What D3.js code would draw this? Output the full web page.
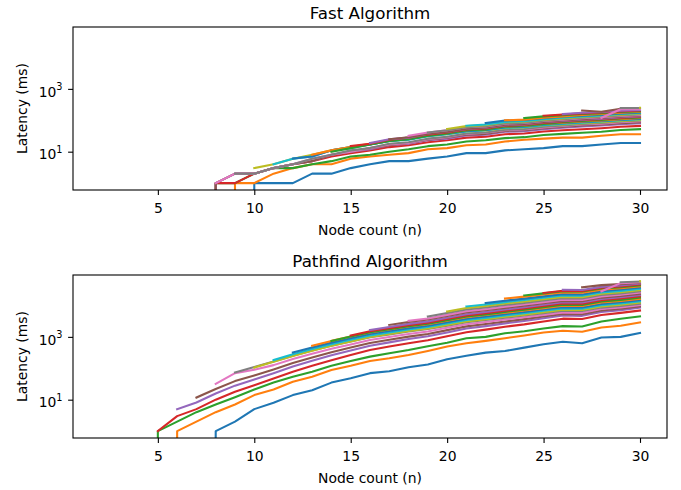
<!DOCTYPE html>
<html><head><meta charset="utf-8">
<script src="https://cdn.jsdelivr.net/npm/d3@7/dist/d3.min.js"></script>
<style>body{margin:0;background:#fff} text{font-family:"DejaVu Sans",sans-serif;fill:#000}</style>
</head><body><svg id="chart" width="681" height="490"></svg>
<script>
// ---- data ----
const xTickValues = [5, 10, 15, 20, 25, 30];
const yTickExponents = [1, 3];
const panelTitles = ["Fast Algorithm", "Pathfind Algorithm"];
const xLabel = "Node count (n)";
const yLabel = "Latency (ms)";
const palette = ["#1f77b4","#ff7f0e","#2ca02c","#d62728","#9467bd","#8c564b","#e377c2","#7f7f7f","#bcbd22","#17becf"];

// first node count of each series (series i starts at n = fastStart[i])
const fastStart = [2,3,4,5,6,7,8,9,10,11,12,13,14,15,16,17,18,19,20,21,22,23,24,25,26,27,28,29,30];
const fastValues = [
 [0,0,0,0,0,0,0,0,1,1,1,2,2,3,4,5,5,6,7,9,9,11,12,13,15,15,17,19,19],
 [0,0,0,0,0,0,1,1,2,3,4,4,6,7,8,9,12,13,16,17,21,24,26,28,28,32,36,36],
 [0,0,0,0,1,1,2,3,3,4,5,7,8,10,12,15,17,21,23,27,29,34,37,40,43,49,52],
 [0,0,0,1,1,2,3,4,5,7,9,11,14,16,20,23,28,30,36,38,44,48,52,56,62,66],
 [0,0,1,2,2,3,4,5,8,10,12,16,18,23,26,33,35,43,45,52,58,64,69,75,81],
 [0,1,2,2,3,4,5,8,10,13,16,19,24,28,35,37,46,48,56,62,68,73,81,87],
 [1,2,2,3,4,6,8,10,13,17,19,25,29,37,40,48,51,59,66,73,78,87,93],
 [2,2,3,4,6,8,11,13,18,20,26,30,38,41,50,53,62,68,76,82,91,98],
 [3,4,6,8,11,14,17,22,25,31,36,44,47,56,59,68,74,81,87,95,102],
 [4,6,7,11,13,17,22,24,31,36,44,48,58,60,70,77,84,91,100,107],
 [6,7,11,14,17,22,25,32,37,46,49,60,63,73,80,88,95,104,112],
 [8,11,14,18,23,26,34,39,48,52,63,66,76,84,92,99,109,117],
 [10,13,17,22,25,32,38,48,51,63,67,77,86,95,103,114,123],
 [15,18,24,28,35,41,51,55,67,71,82,91,100,108,119,129],
 [19,25,28,37,43,53,58,70,74,86,95,105,113,125,135],
 [25,29,37,43,54,59,72,76,89,99,109,118,131,141],
 [32,41,48,60,64,78,82,95,105,116,125,137,148],
 [41,48,60,65,79,84,97,108,120,129,143,155],
 [53,65,70,86,90,104,115,127,136,151,162],
 [67,73,89,94,108,120,132,143,158,170],
 [82,98,102,117,129,141,151,166,178],
 [100,105,121,133,147,158,173,186],
 [118,133,145,158,168,183,195],
 [140,153,166,177,192,204],
 [158,173,184,200,214],
 [203,186,232,229],
 [120,225,225],
 [245,245],
 [250]
];

const pathStart = [2,3,4,5,6,7,8,9,10,11,12,13,14,15,16,17,18,19,20,21,22,23,24,25,26,27,28,29,30];
const pathValues = [
 [0,0,0,0,0,0,1,2,5,8,14,20,35,48,70,80,108,132,193,250,315,355,455,580,700,630,950,1000,1340],
 [0,0,0,1,2,4,7,14,21,37,54,88,120,170,208,265,355,490,630,745,905,1100,1380,1560,1450,1990,2250,2880],
 [0,1,2,4,7,12,21,35,54,78,120,170,235,300,380,500,650,900,1000,1300,1500,1850,2200,2150,3100,3800,4500],
 [1,3,5,10,18,29,47,77,120,180,265,380,490,630,780,1050,1400,1700,2100,2500,3100,3800,3700,5000,5800,6900],
 [5,8.1,15.8,28,44,70,114,173,258,366,522,667,851,1040,1380,1850,2200,2690,3210,3920,4780,4670,6220,7110,8510],
 [11.7,22,39,59,92,148,221,324,456,641,811,1020,1240,1640,2160,2560,3100,3670,4450,5380,5270,6950,7890,9330],
 [32,70,90,126,196,288,416,575,794,993,1240,1490,1940,2520,2970,3560,4190,5020,6030,5920,7690,8690,10200],
 [74,109,164,252,366,519,708,966,1200,1480,1770,2280,2930,3430,4080,4760,5680,6760,6640,8550,9620,11200],
 [105,160,248,362,520,716,986,1230,1530,1840,2380,3090,3630,4350,5100,6110,7310,7180,9310,10500,12300],
 [182,282,410,587,807,1110,1380,1710,2050,2650,3440,4030,4810,5640,6750,8050,7910,10200,11500,13500],
 [316,460,656,899,1230,1530,1900,2270,2930,3790,4440,5300,6210,7410,8850,8670,11200,12600,14800],
 [525,745,1020,1390,1730,2140,2550,3280,4230,4940,5890,6890,8200,9800,9600,12400,13900,16200],
 [741,1020,1410,1760,2190,2630,3410,4440,5210,6240,7330,8790,10500,10300,13400,15100,17800],
 [1100,1520,1900,2370,2840,3700,4810,5660,6790,7980,9590,11500,11300,14700,16600,19500],
 [1660,2070,2590,3110,4060,5270,6210,7450,8750,10500,12600,12400,16100,18200,21400],
 [2400,2990,3560,4610,5970,7000,8360,9790,11700,14000,13700,17800,20000,23400],
 [3240,3870,5010,6500,7620,9120,10700,12800,15300,15000,19500,21900,25700],
 [4470,5740,7400,8630,10300,12000,14300,17000,16700,21500,24200,28200],
 [6460,8280,9640,11500,13300,15800,18800,18400,23700,26500,30900],
 [9330,10800,12800,14900,17600,20800,20500,26100,29200,33900],
 [12000,14200,16500,19500,23000,22500,28600,32100,37200],
 [16600,19100,22300,26000,25600,32000,35500,40700],
 [20900,24300,28200,27800,34500,38200,43700],
 [25100,29400,29000,36500,40600,46800],
 [31600,31000,39100,43400,50100],
 [38000,44400,47700,52500],
 [28200,51300,55000],
 [55000,57500],
 [58900]
];

// ---- layout ----
const svg = d3.select("#chart");
const W = 681, H = 490;
const axL = 73, axR = 667, axH = 163;
const panelTops = [27, 275];
const fontTick = 13.9, fontTitle = 16.7;

const x = d3.scaleLinear().domain([0.6, 31.4]).range([axL, axR]);

const datasets = [
  {starts: fastStart, values: fastValues},
  {starts: pathStart, values: pathValues}
];

datasets.forEach((ds, p) => {
  const top = panelTops[p], bottom = top + axH;
  const y = d3.scaleLog().domain([Math.pow(10, -0.22), Math.pow(10, 4.97)]).range([bottom, top]);
  const g = svg.append("g");
  const clipId = "clip" + p;
  svg.append("defs").append("clipPath").attr("id", clipId)
    .append("rect").attr("x", axL).attr("y", top).attr("width", axR - axL).attr("height", axH);

  const line = d3.line()
    .x(d => x(d.n))
    .y(d => d.v > 0 ? y(d.v) : y(1e-300));

  const lg = g.append("g").attr("clip-path", `url(#${clipId})`);
  ds.values.forEach((vals, i) => {
    const pts = vals.map((v, k) => ({n: ds.starts[i] + k, v}));
    lg.append("path").attr("d", line(pts))
      .attr("fill", "none")
      .attr("stroke", palette[i % palette.length])
      .attr("stroke-width", 2.08)
      .attr("stroke-linejoin", "round")
      .attr("stroke-linecap", "square");
  });

  // frame
  g.append("rect").attr("x", axL).attr("y", top).attr("width", axR - axL).attr("height", axH)
    .attr("fill", "none").attr("stroke", "#000").attr("stroke-width", 1.1);

  // x axis ticks
  const xa = g.append("g").attr("transform", `translate(0,${bottom})`)
    .call(d3.axisBottom(x).tickValues(xTickValues).tickSize(4.9).tickPadding(4.9).tickSizeOuter(0));
  xa.select(".domain").remove();
  xa.selectAll(".tick line").attr("stroke", "#000").attr("stroke-width", 1.1);
  xa.selectAll(".tick text").attr("font-size", fontTick).attr("font-family", "DejaVu Sans")
    .attr("fill", "#000").attr("dy", null).attr("y", 23.2);

  // y axis ticks (10^k)
  const ya = g.append("g").attr("transform", `translate(${axL},0)`)
    .call(d3.axisLeft(y).tickValues(yTickExponents.map(e => Math.pow(10, e))).tickSize(4.9).tickPadding(4.9).tickSizeOuter(0).tickFormat(""));
  ya.select(".domain").remove();
  ya.selectAll(".tick line").attr("stroke", "#000").attr("stroke-width", 1.1);
  ya.selectAll(".tick").each(function(d) {
    const t = d3.select(this).select("text");
    t.text(null).attr("x", -10.5).attr("dy", null).attr("y", 7.2)
      .attr("font-size", fontTick).attr("font-family", "DejaVu Sans").attr("fill", "#000").attr("text-anchor", "end");
    t.append("tspan").text("10");
    t.append("tspan").attr("font-size", fontTick * 0.7).attr("dy", -6.5).text(Math.round(Math.log10(d)));
  });

  // labels
  g.append("text").attr("x", (axL + axR) / 2).attr("y", bottom + 44.5)
    .attr("text-anchor", "middle").attr("font-size", fontTick).text(xLabel);
  g.append("text").attr("transform", `translate(26.5,${(top + bottom) / 2}) rotate(-90)`)
    .attr("text-anchor", "middle").attr("font-size", fontTick).text(yLabel);
  g.append("text").attr("x", (axL + axR) / 2).attr("y", top - 8.3)
    .attr("text-anchor", "middle").attr("font-size", fontTitle).text(panelTitles[p]);
});
</script></body></html>
